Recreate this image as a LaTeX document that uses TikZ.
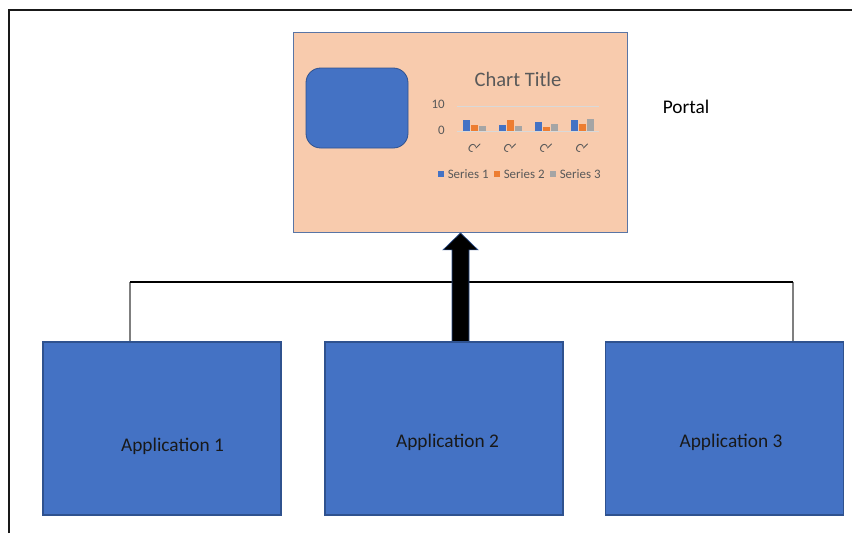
\documentclass[tikz,border=0pt]{standalone}
\usepackage{fontspec}
\setmainfont{Carlito}
\usetikzlibrary{calc}
\definecolor{appblue}{HTML}{4472C4}
\definecolor{appedge}{HTML}{2F528F}
\definecolor{peach}{HTML}{F8CBAD}
\definecolor{chartgray}{HTML}{595959}
\definecolor{gridgray}{HTML}{D9D9D9}
\definecolor{sone}{HTML}{4472C4}
\definecolor{stwo}{HTML}{ED7D31}
\definecolor{sthree}{HTML}{A5A5A5}
\definecolor{linkgray}{HTML}{7F7F7F}
\tikzset{
  appbox/.style={draw=appedge, line width=0.8pt, fill=appblue, minimum width=178.5pt, minimum height=129.75pt, inner sep=0pt},
  apptext/.style={font=\fontsize{14.5}{17}\selectfont, text=black!90, inner sep=0pt},
  portalbox/.style={draw=appedge!80, line width=0.6pt, fill=peach, minimum width=250.5pt, minimum height=150pt, inner sep=0pt},
  roundbox/.style={draw=appedge, line width=0.6pt, fill=appblue, rounded corners=11pt, minimum width=76.5pt, minimum height=60pt, inner sep=0pt},
  charttext/.style={text=chartgray, inner sep=0pt},
  frameline/.style={line width=1.8pt, black!90},
  busline/.style={line width=1.1pt, black},
  dropline/.style={line width=1.1pt, linkgray},
  bigarrow/.style={fill=black, draw=appedge, line width=0.5pt},
}
\begin{document}
\begin{tikzpicture}[x=0.75pt,y=-0.75pt]
\useasboundingbox (0,0) rectangle (852,533);
% frame (top and left edges)
\coordinate (ftl) at (9,10);
\coordinate (ftr) at (852,10);
\coordinate (fbl) at (9,533);
\draw[frameline] (fbl) -- (ftl) -- (ftr);

% portal
\node[portalbox] (portal) at (460,132.5) {};
\node[roundbox] (rbox) at (357,108) {};
\node[charttext, font=\fontsize{15.4}{18}\selectfont] (ctitle) at (518,79) {Chart Title};
\node[charttext, font=\fontsize{9.7}{10}\selectfont, anchor=east] (yten) at (445,104) {10};
\node[charttext, font=\fontsize{9.7}{10}\selectfont, anchor=east] (yzero) at (445,130) {0};
\coordinate (gl) at (457,106);
\coordinate (gr) at (599,106);
\coordinate (bl) at (457,131);
\coordinate (br) at (599,131);
\draw[gridgray, line width=0.7pt] (gl) -- (gr);
\draw[gridgray, line width=0.7pt] (bl) -- (br);
% bars: values * 2.5px
\foreach \cx/\a/\b/\c [count=\i] in {474.5/4.3/2.4/2, 510/2.5/4.4/2, 546/3.5/1.8/3, 582/4.5/2.8/5}{
  \fill[sone]   (\cx-11.5,131) rectangle (\cx-4.5,131-2.5*\a);
  \fill[stwo]   (\cx-3.5,131) rectangle (\cx+3.5,131-2.5*\b);
  \fill[sthree] (\cx+4.5,131) rectangle (\cx+11.5,131-2.5*\c);
  \node[charttext, font=\fontsize{9.5}{9.5}\selectfont, rotate=-35] (cat\i) at (\cx-2.5,148.5) {C};
  \draw[chartgray, line width=0.6pt, line cap=round] (\cx+1.5,148) -- (\cx+5.5,144);
}
% legend
\foreach \lx/\col/\txt [count=\j] in {438/sone/Series 1, 494/stwo/Series 2, 550/sthree/Series 3}{
  \fill[\col] (\lx,171) rectangle (\lx+6,177);
  \node[charttext, font=\fontsize{9.7}{11}\selectfont, anchor=west] (leg\j) at (\lx+9.5,174) {\txt};
}
\node[font=\fontsize{14.5}{17}\selectfont, inner sep=0pt] (plabel) at (686,107) {Portal};

% applications
\node[appbox] (app1) at (162,428.5) {};
\node[appbox] (app2) at (444,428.5) {};
\node[appbox] (app3) at (724.5,428.5) {};
\node[apptext] (t1) at ($(app1.center)+(10.5,17.5)$) {Application 1};
\node[apptext] (t2) at ($(app2.center)+(3.5,13.5)$) {Application 2};
\node[apptext] (t3) at ($(app3.center)+(6.5,13.5)$) {Application 3};

% bus connector
\coordinate (hl) at (130,282);
\coordinate (hr) at (793,282);
\draw[dropline] (hl) -- (hl |- app1.north);
\draw[dropline] (hr) -- (hr |- app3.north);
\draw[busline] (hl) -- (hr);

% big arrow from application 2 to portal
\coordinate (ab) at ($(app2.north)+(16.5,0)$);
\coordinate (at) at (portal.south -| ab);
\draw[bigarrow] ($(ab)+(-8.5,0)$) -- ($(at)+(-8.5,17)$) -- ($(at)+(-17.5,17)$) -- (at)
  -- ($(at)+(17.5,17)$) -- ($(at)+(8.5,17)$) -- ($(ab)+(8.5,0)$) -- cycle;
\end{tikzpicture}
\end{document}
